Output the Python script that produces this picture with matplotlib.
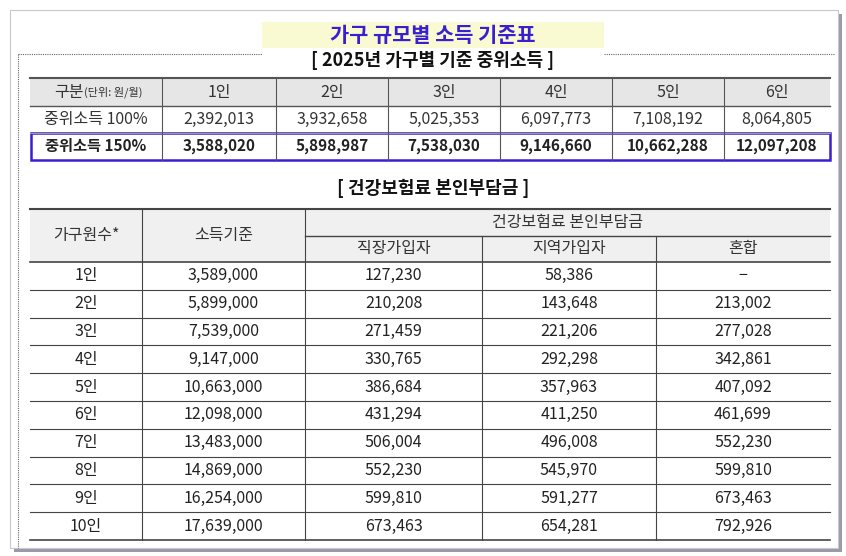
import matplotlib
matplotlib.use("Agg")
import matplotlib.pyplot as plt
from matplotlib.patches import Rectangle

plt.rcParams["font.family"] = ["Noto Sans CJK KR", "Noto Sans CJK JP", "Noto Sans CJK SC", "DejaVu Sans"]

title = "가구 규모별 소득 기준표"
sub1 = "[ 2025년 가구별 기준 중위소득 ]"
sub2 = "[ 건강보험료 본인부담금 ]"
t1_header = ["구분(단위: 원/월)", "1인", "2인", "3인", "4인", "5인", "6인"]
median100 = ["2,392,013", "3,932,658", "5,025,353", "6,097,773", "7,108,192", "8,064,805"]
median150 = ["3,588,020", "5,898,987", "7,538,030", "9,146,660", "10,662,288", "12,097,208"]
households = ["1인", "2인", "3인", "4인", "5인", "6인", "7인", "8인", "9인", "10인"]
income = ["3,589,000", "5,899,000", "7,539,000", "9,147,000", "10,663,000", "12,098,000",
          "13,483,000", "14,869,000", "16,254,000", "17,639,000"]
workplace = ["127,230", "210,208", "271,459", "330,765", "386,684", "431,294",
             "506,004", "552,230", "599,810", "673,463"]
regional = ["58,386", "143,648", "221,206", "292,298", "357,963", "411,250",
            "496,008", "545,970", "591,277", "654,281"]
mixed = ["−", "213,002", "277,028", "342,861", "407,092", "461,699",
         "552,230", "599,810", "673,463", "792,926"]

W, H = 846, 556
fig = plt.figure(figsize=(W/100, H/100), dpi=100)
ax = fig.add_axes([0, 0, 1, 1])
ax.set_xlim(0, W); ax.set_ylim(H, 0); ax.axis("off")
fig.patch.set_facecolor("white")

# card with shadow
ax.add_patch(Rectangle((14, 14), 828, 538, facecolor="#9a9aa8", edgecolor="none"))
ax.add_patch(Rectangle((10, 10), 828, 538, facecolor="white", edgecolor="#c8c8d0", lw=0.8))
# dotted frame
ax.plot([18, 262], [54, 54], color="#666", lw=0.8, ls=(0, (1, 1)))
ax.plot([604, 835], [54, 54], color="#666", lw=0.8, ls=(0, (1, 1)))
ax.plot([18, 18], [54, 548], color="#666", lw=0.8, ls=(0, (1, 1)))

ax.add_patch(Rectangle((262, 22), 342, 26, facecolor="#fafad2", edgecolor="none"))
ax.text(433, 35, title, ha="center", va="center", fontsize=15, color="#3a1fd0", fontweight="bold")
ax.text(433, 61, sub1, ha="center", va="center", fontsize=13, color="#111", fontweight="bold")
ax.text(433, 188, sub2, ha="center", va="center", fontsize=13, color="#111", fontweight="bold")

fs = 11.5
# table 1
xs1 = [30, 162, 276, 388, 500, 612, 724, 830]
ys1 = [78, 106, 133, 160]
ax.add_patch(Rectangle((30, 78), 800, 28, facecolor="#e6e6e6", edgecolor="none"))
for i, lab in enumerate(t1_header):
    cx = (xs1[i] + xs1[i+1]) / 2
    if i == 0:
        ax.text(cx - 12, 92, "구분", ha="right", va="center", fontsize=fs, color="#333")
        ax.text(cx - 12, 92, "(단위: 원/월)", ha="left", va="center", fontsize=8, color="#333")
    else:
        ax.text(cx, 92, lab, ha="center", va="center", fontsize=fs, color="#333")
rows1 = [("중위소득 100%", median100, "normal"), ("중위소득 150%", median150, "bold")]
for r, (lab, vals, wt) in enumerate(rows1):
    cy = (ys1[r+1] + ys1[r+2]) / 2
    allv = [lab] + vals
    for i, v in enumerate(allv):
        cx = (xs1[i] + xs1[i+1]) / 2
        ax.text(cx, cy, v, ha="center", va="center", fontsize=fs if wt == "normal" else 11,
                color="#222" if wt == "bold" else "#333", fontweight=wt)
ax.plot([30, 830], [78, 78], color="#555", lw=1.5)
ax.plot([30, 830], [106, 106], color="#555", lw=1)
ax.plot([30, 830], [133, 133], color="#999", lw=0.8)
for x in xs1[1:-1]:
    ax.plot([x, x], [78, 160], color="#555", lw=0.8)
ax.add_patch(Rectangle((31, 133), 799, 27, facecolor="none", edgecolor="#3a1fd0", lw=1.8))

# table 2
xs2 = [30, 142, 305, 482, 656, 830]
y0, yh1, yh2 = 209, 236, 262
rh = (540 - 262) / 10
ax.add_patch(Rectangle((30, y0), 800, yh2 - y0, facecolor="#f0f0f0", edgecolor="none"))
ax.text((xs2[0]+xs2[1])/2, (y0+yh2)/2, "가구원수*", ha="center", va="center", fontsize=fs, color="#333")
ax.text((xs2[1]+xs2[2])/2, (y0+yh2)/2, "소득기준", ha="center", va="center", fontsize=fs, color="#333")
ax.text((xs2[2]+xs2[5])/2, (y0+yh1)/2, "건강보험료 본인부담금", ha="center", va="center", fontsize=fs, color="#333")
for i, lab in enumerate(["직장가입자", "지역가입자", "혼합"]):
    ax.text((xs2[i+2]+xs2[i+3])/2, (yh1+yh2)/2, lab, ha="center", va="center", fontsize=fs, color="#333")
ax.plot([30, 830], [y0, y0], color="#444", lw=1.5)
ax.plot([305, 830], [yh1, yh1], color="#444", lw=1)
ax.plot([30, 830], [yh2, yh2], color="#444", lw=1.2)
for r in range(10):
    cy = yh2 + rh * (r + 0.5)
    vals = [households[r], income[r], workplace[r], regional[r], mixed[r]]
    for i, v in enumerate(vals):
        ax.text((xs2[i]+xs2[i+1])/2, cy, v, ha="center", va="center", fontsize=fs, color="#222")
    ax.plot([30, 830], [yh2 + rh*(r+1)]*2, color="#444", lw=1.2 if r == 9 else 0.8)
for x in xs2[1:3]:
    ax.plot([x, x], [y0, 540], color="#444", lw=0.8)
for x in xs2[3:5]:
    ax.plot([x, x], [yh1, 540], color="#444", lw=0.8)

fig.savefig("out.png", dpi=100)
